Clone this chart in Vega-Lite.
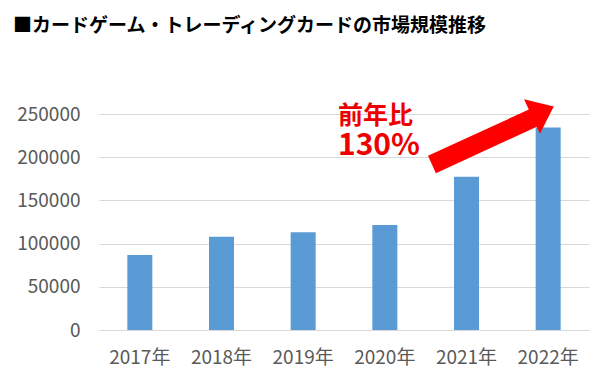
{
  "$schema": "https://vega.github.io/schema/vega-lite/v6.json",
  "width": 490,
  "height": 216,
  "autosize": {"type": "none"},
  "padding": {"left": 99, "top": 114, "right": 11, "bottom": 45},
  "background": "white",
  "config": {"view": {"stroke": null}, "font": "Noto Sans CJK JP"},
  "title": {
    "text": "■カードゲーム・トレーディングカードの市場規模推移",
    "anchor": "start",
    "frame": "group",
    "fontSize": 19,
    "fontWeight": "bold",
    "color": "#000000",
    "font": "Noto Sans CJK JP",
    "dx": -86,
    "offset": 63
  },
  "datasets": {
    "market": [
      {"year": "2017年", "value": 86800},
      {"year": "2018年", "value": 108000},
      {"year": "2019年", "value": 113000},
      {"year": "2020年", "value": 121500},
      {"year": "2021年", "value": 177400},
      {"year": "2022年", "value": 234500}
    ],
    "arrowShaft": [{"x": 4.077, "y": 191550, "x2": 5.326, "y2": 245830}],
    "arrowHead": [{"x": 5.435, "y": 253010}],
    "label1": [{"x": 2.926, "y": 248200, "text": "前年比"}],
    "label2": [{"x": 2.926, "y": 212600, "text": "130%"}]
  },
  "layer": [
    {
      "data": {"name": "market"},
      "mark": {"type": "bar", "width": 25, "color": "#5b9bd5"},
      "encoding": {
        "x": {
          "field": "year",
          "type": "ordinal",
          "scale": {"paddingInner": 0, "paddingOuter": 0},
          "axis": {
            "title": null,
            "labelAngle": 0,
            "domain": false,
            "ticks": false,
            "tickSize": 0,
            "labelPadding": 18,
            "labelFontSize": 19,
            "labelColor": "#595959",
            "labelFont": "Noto Sans CJK JP",
            "grid": false
          }
        },
        "y": {
          "field": "value",
          "type": "quantitative",
          "title": null,
          "scale": {"domain": [0, 250000], "nice": false},
          "axis": {
            "values": [0, 50000, 100000, 150000, 200000, 250000],
            "format": "d",
            "grid": true,
            "gridColor": "#d9d9d9",
            "gridWidth": 1,
            "domain": false,
            "ticks": false,
            "tickSize": 0,
            "labelPadding": 19,
            "labelFontSize": 19,
            "labelColor": "#595959",
            "labelFont": "Noto Sans CJK JP"
          }
        }
      }
    },
    {
      "data": {"name": "arrowShaft"},
      "mark": {"type": "rule", "color": "#ff0000", "strokeWidth": 19, "strokeCap": "butt"},
      "encoding": {
        "x": {"field": "x", "type": "quantitative", "scale": {"domain": [0, 6], "nice": false, "zero": true}, "axis": null},
        "x2": {"field": "x2"},
        "y": {"field": "y", "type": "quantitative", "title": null, "scale": {"domain": [0, 250000], "nice": false}},
        "y2": {"field": "y2"}
      }
    },
    {
      "data": {"name": "arrowHead"},
      "mark": {"type": "point", "shape": "M-0.63,-1L0.63,0L-0.63,1Z", "size": 1444, "filled": true, "color": "#ff0000", "opacity": 1, "angle": 335.3},
      "encoding": {
        "x": {"field": "x", "type": "quantitative", "scale": {"domain": [0, 6], "nice": false}, "axis": null},
        "y": {"field": "y", "type": "quantitative", "title": null, "scale": {"domain": [0, 250000], "nice": false}}
      }
    },
    {
      "data": {"name": "label1"},
      "mark": {"type": "text", "align": "left", "baseline": "middle", "fontSize": 25, "fontWeight": "bold", "color": "#ee0000", "font": "Noto Sans CJK JP"},
      "encoding": {
        "x": {"field": "x", "type": "quantitative", "scale": {"domain": [0, 6], "nice": false}, "axis": null},
        "y": {"field": "y", "type": "quantitative", "title": null, "scale": {"domain": [0, 250000], "nice": false}},
        "text": {"field": "text"}
      }
    },
    {
      "data": {"name": "label2"},
      "mark": {"type": "text", "align": "left", "baseline": "middle", "fontSize": 30, "fontWeight": "bold", "color": "#ee0000", "font": "Noto Sans CJK JP"},
      "encoding": {
        "x": {"field": "x", "type": "quantitative", "scale": {"domain": [0, 6], "nice": false}, "axis": null},
        "y": {"field": "y", "type": "quantitative", "title": null, "scale": {"domain": [0, 250000], "nice": false}},
        "text": {"field": "text"}
      }
    }
  ],
  "resolve": {"scale": {"x": "independent"}, "axis": {"x": "independent"}}
}
